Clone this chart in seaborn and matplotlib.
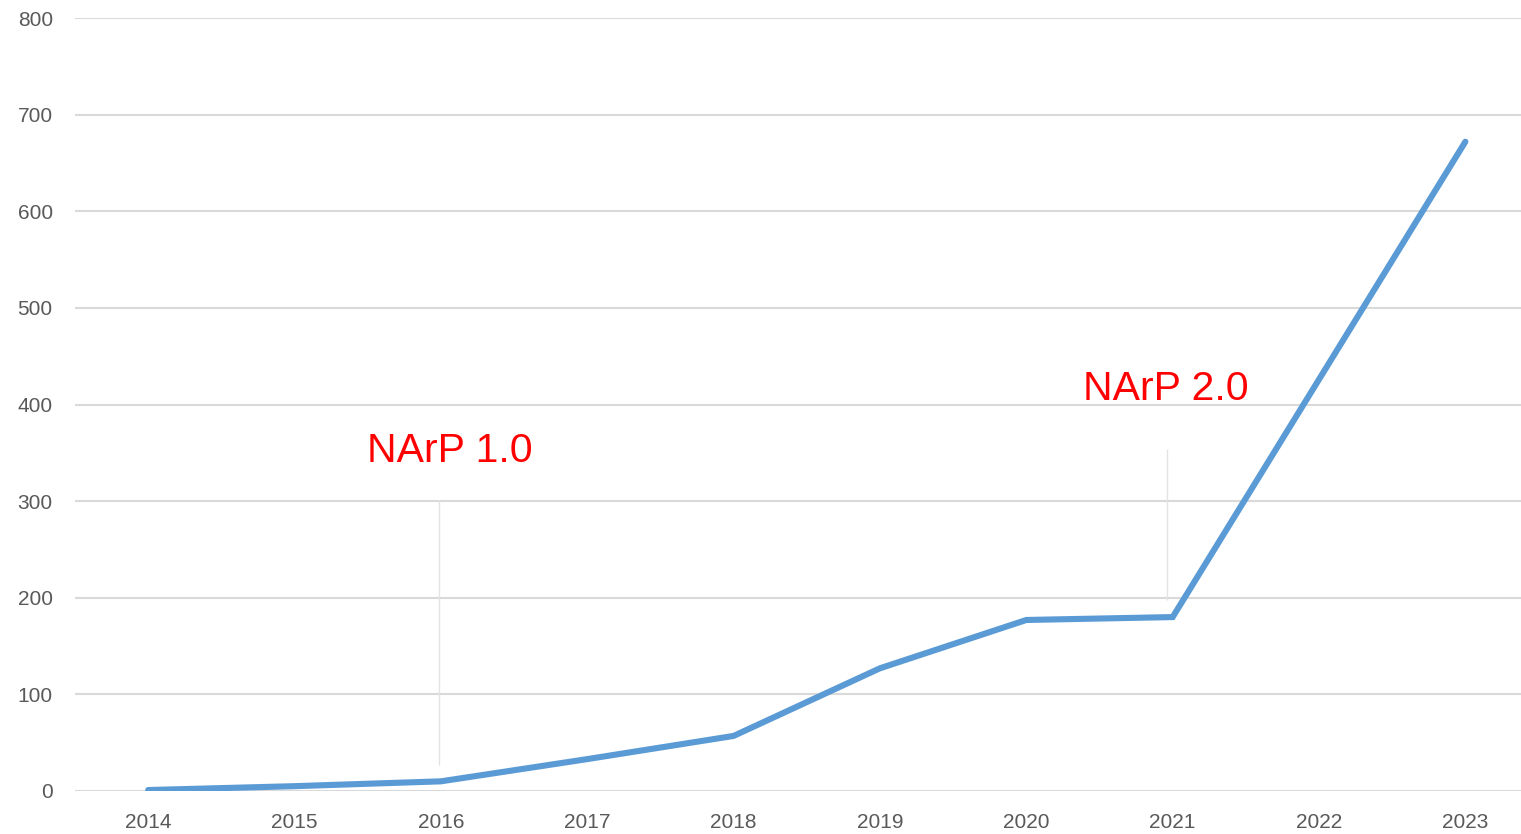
import matplotlib
matplotlib.use("Agg")
import matplotlib.pyplot as plt
import seaborn as sns
import pandas as pd

# Yearly counts
years = [2014, 2015, 2016, 2017, 2018, 2019, 2020, 2021, 2022, 2023]
counts = [1, 5, 10, 33, 57, 127, 177, 180, 426, 672]

# Release markers: label, text position, guide line position and span
releases = ["NArP 1.0", "NArP 2.0"]
release_text_x = [2016.06, 2020.95]
release_text_y = [340, 405]
release_line_x = [2015.99, 2020.96]
release_line_lo = [27, 198]
release_line_hi = [301, 354]

sns.set_theme(style="white")
plt.rcParams["font.family"] = ["Liberation Sans", "DejaVu Sans"]

df = pd.DataFrame({"year": years, "count": counts})

fig = plt.figure(figsize=(15.21, 8.34), dpi=100)
ax = fig.add_axes([75 / 1521, 1 - 791 / 834, 1 - 75 / 1521, (791 - 18) / 834])

sns.lineplot(data=df, x="year", y="count", ax=ax, color="#5b9bd5",
             linewidth=4.4, solid_capstyle="round", solid_joinstyle="miter",
             zorder=3)

ax.set_ylim(0, 800)
ax.set_xlim(2013.5, 2014 + 9.38)
ax.set_yticks(range(0, 801, 100))
ax.set_xticks(years)
ax.set_xticklabels([str(y) for y in years])
ax.yaxis.grid(True, color="#d9d9d9", linewidth=1.5)
ax.xaxis.grid(False)
ax.set_axisbelow(True)
for s in ax.spines.values():
    s.set_visible(False)
ax.tick_params(axis="both", length=0, labelsize=15, colors="#595959")
ax.tick_params(axis="y", pad=16)
ax.tick_params(axis="x", pad=16)
ax.set_xlabel("")
ax.set_ylabel("")

for label, tx, ty, lx, lo, hi in zip(releases, release_text_x, release_text_y,
                                     release_line_x, release_line_lo,
                                     release_line_hi):
    ax.vlines(lx, lo, hi, color="#e3e3e3", linewidth=1.0, zorder=2)
    ax.text(tx, ty, label, color="#ff0000", fontsize=29.5,
            ha="center", va="baseline", zorder=4)

fig.savefig("out.png", dpi=100)
